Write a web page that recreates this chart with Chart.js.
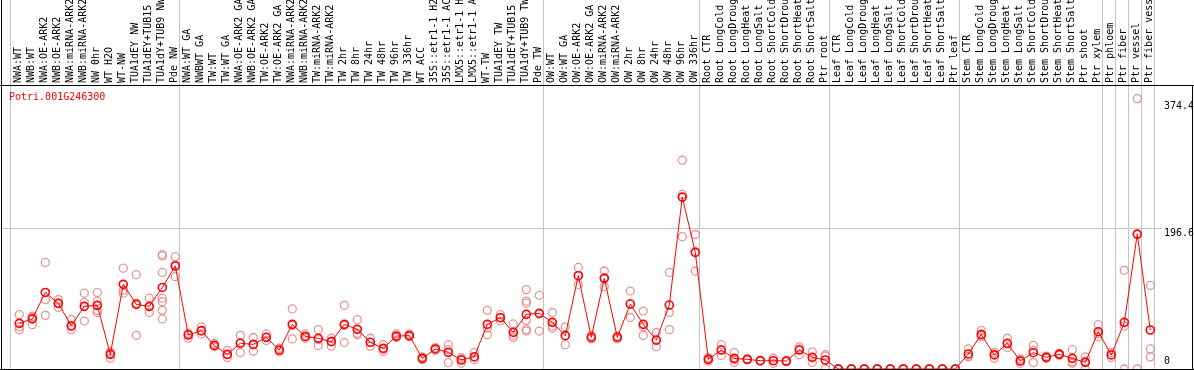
<!DOCTYPE html>
<html>
<head>
<meta charset="utf-8">
<script src="https://cdn.jsdelivr.net/npm/chart.js"></script>
<style>
  body { margin: 0; background: #fff; }
</style>
</head>
<body>
<canvas id="expr" width="1194" height="370"></canvas>
<script>
var geneId = 'Potri.001G246300';

// sample names, one list per block of the plot
var labelsNW = ['NWA:WT', 'NWB:WT', 'NWA:OE-ARK2', 'NWB:OE-ARK2', 'NWA:miRNA-ARK2', 'NWB:miRNA-ARK2',
  'NW 0hr', 'WT H2O', 'WT-NW', 'TUA1dEY NW', 'TUA1dEY+TUB15 NW', 'TUA1dY+TUB9 NW', 'Pde NW'];
var labelsTW = ['NWA:WT GA', 'NWBWT GA', 'TW:WT', 'TW:WT GA', 'NWA:OE-ARK2 GA', 'NWB:OE-ARK2 GA',
  'TW:OE-ARK2', 'TW:OE-ARK2 GA', 'NWA:miRNA-ARK2 GA', 'NWB:miRNA-ARK2 GA', 'TW:miRNA-ARK2', 'TW:miRNA-ARK2 GA',
  'TW 2hr', 'TW 8hr', 'TW 24hr', 'TW 48hr', 'TW 96hr', 'TW 336hr', 'WT ACC',
  '35S::etr1-1 H2O', '35S::etr1-1 ACC', 'LMX5::etr1-1 H2O', 'LMX5::etr1-1 ACC',
  'WT-TW', 'TUA1dEY TW', 'TUA1dEY+TUB15 TW', 'TUA1dY+TUB9 TW', 'Pde TW'];
var labelsOW = ['OW:WT', 'OW:WT GA', 'OW:OE-ARK2', 'OW:OE-ARK2 GA', 'OW:miRNA-ARK2', 'OW:miRNA-ARK2 GA',
  'OW 2hr', 'OW 8hr', 'OW 24hr', 'OW 48hr', 'OW 96hr', 'OW 336hr'];
var labelsRoot = ['Root CTR', 'Root LongCold', 'Root LongDrought', 'Root LongHeat', 'Root LongSalt',
  'Root ShortCold', 'Root ShortDrought', 'Root ShortHeat', 'Root ShortSalt', 'Ptr root'];
var labelsLeaf = ['Leaf CTR', 'Leaf LongCold', 'Leaf LongDrought', 'Leaf LongHeat', 'Leaf LongSalt',
  'Leaf ShortCold', 'Leaf ShortDrought', 'Leaf ShortHeat', 'Leaf ShortSalt', 'Ptr leaf'];
var labelsStem = ['Stem CTR', 'Stem LongCold', 'Stem LongDrought', 'Stem LongHeat', 'Stem LongSalt',
  'Stem ShortCold', 'Stem ShortDrought', 'Stem ShortHeat', 'Stem ShortSalt', 'Ptr shoot', 'Ptr xylem'];
var labelsTissue = ['Ptr phloem', 'Ptr fiber', 'Ptr vessel', 'Ptr fiber vessel'];

var categories = [].concat(labelsNW, labelsTW, labelsOW, labelsRoot, labelsLeaf, labelsStem, labelsTissue);
var groupSizes = [13, 28, 12, 10, 10, 11, 1, 1, 1, 1];

// mean expression per sample
var means = [
  63.8, 70, 107, 91.8, 60.5, 87.6, 89, 20.5, 118.3, 90.4, 87.6, 114, 144,
  47.5, 53.6, 33, 20.5, 35.9, 34.4, 44.3, 26.5, 62.4, 45.6, 42.9, 38.2, 62.4, 55.4,
  37.3, 28.9, 46, 46.7, 14.9, 28, 23.3, 12.6, 17.2, 62.4, 71.7, 51.2, 76.4, 77.8,
  65.2, 46.6, 130.4, 44.3, 126.7, 44.3, 90.8, 62.4, 40.5, 89.4, 240.3, 163,
  13.5, 26.5, 14.9, 13.5, 11.6, 11.6, 11.2, 26.5, 16.3, 12.6,
  0, 0, 0, 0, 0, 0, 0, 0, 0, 0,
  21, 48.4, 19.6, 35.9, 11.2, 22.8, 16.3, 20.5, 14.9, 9.3, 52.1,
  19.6, 65.2, 188.6, 54.5
];

// single replicates per sample
var replicates = [
  [76, 59, 55], [74, 62, 72], [149, 97, 75], [97, 86, 92], [69, 55, 59], [106, 93, 67],
  [107, 95, 79, 82], [24, 15, 22], [141, 106, 110], [132, 47, 92], [99, 79, 87],
  [158, 160, 135, 99, 94, 82, 70], [157, 129, 146],
  [50, 43, 49], [59, 49, 53], [36, 31, 33], [26, 16, 20], [47, 23, 37], [44, 25, 34],
  [49, 40, 44], [29, 24, 26], [84, 42, 61], [49, 43, 45], [55, 33, 41], [43, 32, 39],
  [89, 37, 61], [69, 48, 50], [43, 32, 37], [34, 25, 28], [49, 44, 45], [49, 45, 46],
  [13, 15, 17], [28, 26, 30], [34, 9, 27], [16, 8, 14], [23, 13, 16], [82, 48, 57],
  [76, 67, 72], [63, 44, 47], [111, 95, 92, 68, 55, 53], [103, 53, 77],
  [79, 57, 60], [59, 34, 47], [142, 118, 131], [47, 42, 44], [137, 115, 128], [46, 42, 45],
  [109, 72, 91], [81, 47, 59], [51, 31, 40], [135, 79, 55], [292, 244, 185], [188, 137, 164],
  [16, 11, 14], [34, 19, 27], [23, 9, 13], [14, 13, 13], [12, 11, 12], [15, 8, 12],
  [12, 10, 11], [31, 20, 28], [24, 9, 16], [20, 0, 18],
  [0, 0, 0], [0, 0, 0], [0, 0, 0], [0, 0, 0], [0, 0, 0], [0, 0, 0], [0, 0, 0], [0, 0, 0], [0, 0, 0], [0, 0, 0],
  [28, 17, 18], [54, 45, 47], [23, 15, 21], [43, 30, 35], [14, 8, 12], [33, 9, 26],
  [18, 15, 16], [22, 19, 21], [27, 8, 10], [17, 0, 11], [62, 45, 49],
  [23, 16, 20], [138, 60, 0], [378, 188, 0], [117, 28, 17]
];

var yTicks = [0, 196.6, 374.4];

var monoFont = 'DejaVu Sans Mono';
var gridGrey = '#c4c4c4';
var none = 'rgba(0,0,0,0)';

// group dividers sit a bit right of the last sample of each block
var boundaries = [-0.64];
var acc = 0;
groupSizes.forEach(function (n) {
  acc += n;
  boundaries.push(acc - 0.64);
});

var meanPoints = means.map(function (v, i) { return { x: i, y: v }; });
var repPoints = [];
replicates.forEach(function (reps, i) {
  reps.forEach(function (v) { repPoints.push({ x: i, y: v }); });
});

var framePlugin = {
  id: 'frame',
  afterDraw: function (chart) {
    var ctx = chart.ctx;
    var a = chart.chartArea;
    ctx.save();
    ctx.fillStyle = '#000';
    ctx.fillRect(0, a.top, chart.width, 1);
    ctx.fillRect(0, a.bottom, chart.width, 1);
    ctx.fillRect(1, 0, 1, a.bottom);
    ctx.fillRect(chart.width - 2, a.top, 1, a.bottom - a.top);
    ctx.fillStyle = '#ff0000';
    ctx.font = '10px "' + monoFont + '"';
    ctx.textBaseline = 'middle';
    ctx.fillText(geneId, 9, a.top + 12);
    ctx.restore();
  }
};

new Chart(document.getElementById('expr'), {
  type: 'line',
  data: {
    datasets: [{
      label: 'mean',
      data: meanPoints,
      borderColor: '#ff0000',
      borderWidth: 1,
      tension: 0,
      fill: false,
      pointRadius: 4,
      pointBorderWidth: 1.6,
      pointBorderColor: '#ff0000',
      pointBackgroundColor: none
    }, {
      label: 'replicates',
      data: repPoints,
      showLine: false,
      pointRadius: 4,
      pointBorderWidth: 1.3,
      pointBorderColor: 'rgba(228,130,130,0.85)',
      pointBackgroundColor: none
    }]
  },
  options: {
    responsive: false,
    animation: false,
    layout: { autoPadding: false, padding: { left: 1, bottom: 1 } },
    plugins: { legend: { display: false }, tooltip: { enabled: false } },
    scales: {
      x: {
        type: 'linear',
        position: 'top',
        min: -1.408,
        max: 87.9,
        afterBuildTicks: function (s) {
          var t = categories.map(function (c, i) { return { value: i }; });
          boundaries.forEach(function (b) { t.push({ value: b }); });
          s.ticks = t;
        },
        afterFit: function (s) {
          s.height = 85;
          s.paddingLeft = 0;
          s.paddingRight = 0;
        },
        border: { display: false },
        grid: {
          tickLength: 85,
          color: function (c) {
            return c.tick && !Number.isInteger(c.tick.value) ? gridGrey : none;
          }
        },
        ticks: {
          autoSkip: false,
          minRotation: 90,
          maxRotation: 90,
          padding: -83,
          labelOffset: 11,
          color: '#000',
          font: { family: monoFont, size: 10 },
          callback: function (v) { return Number.isInteger(v) ? categories[v] : ''; }
        }
      },
      y: {
        position: 'right',
        min: 0,
        max: 397,
        afterBuildTicks: function (s) {
          s.ticks = yTicks.map(function (v) { return { value: v }; });
        },
        afterFit: function (s) {
          s.width = 32;
          s.paddingTop = 0;
          s.paddingBottom = 0;
        },
        border: { display: false },
        grid: {
          drawTicks: false,
          color: function (c) { return c.tick && c.tick.value === 196.6 ? gridGrey : none; }
        },
        ticks: {
          padding: 2,
          color: '#000',
          font: function (c) {
            return { family: monoFont, size: 10, lineHeight: c.tick && c.tick.value === 0 ? 1.5 : 1 };
          },
          callback: function (v) { return v === 0 ? ['0', ''] : ['', String(v)]; }
        }
      }
    }
  },
  plugins: [framePlugin]
});
</script>
</body>
</html>
